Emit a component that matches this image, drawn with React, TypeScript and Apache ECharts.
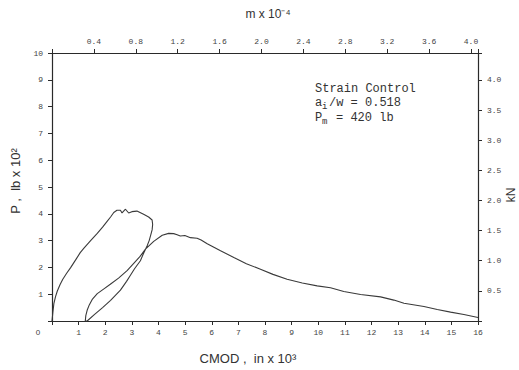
import React, { useEffect, useRef } from "react";
import * as echarts from "echarts";

// CMOD (in x 10^-3) and P (lb x 10^2)
const loadingCmod = [0, 0.03, 0.07, 0.13, 0.2, 0.3, 0.4, 0.55, 0.7, 0.9, 1.06, 1.2, 1.45, 1.7, 1.9, 2.07, 2.2, 2.32, 2.44, 2.57, 2.63, 2.76, 2.88, 3.0, 3.19, 3.44, 3.63, 3.76];
const loadingP = [0, 0.3, 0.65, 0.9, 1.12, 1.35, 1.55, 1.78, 1.99, 2.3, 2.55, 2.72, 3.0, 3.27, 3.5, 3.72, 3.88, 4.05, 4.13, 4.13, 4.03, 4.17, 4.03, 4.08, 4.1, 3.98, 3.88, 3.77];
const unloadingCmod = [3.78, 3.76, 3.72, 3.65, 3.57, 3.45, 3.32, 3.1, 2.94, 2.8, 2.57, 2.2, 1.9, 1.6, 1.32];
const unloadingP = [3.6, 3.4, 3.25, 3.0, 2.8, 2.55, 2.25, 1.95, 1.7, 1.48, 1.15, 0.77, 0.5, 0.25, 0.0];
const reloadingCmod = [1.25, 1.27, 1.32, 1.4, 1.52, 1.7, 1.95, 2.19, 2.5, 2.82, 3.07, 3.3, 3.51, 3.82, 4.14, 4.38, 4.57, 4.7, 4.82, 4.99, 5.2, 5.45, 5.6, 5.83, 6.33, 6.83, 7.3, 7.83, 8.3, 8.83, 9.4, 9.96, 10.46, 10.96, 11.59, 12.34, 12.84, 13.22, 13.97, 14.47, 14.97, 15.47, 16.0];
const reloadingP = [0.0, 0.2, 0.4, 0.6, 0.82, 1.02, 1.2, 1.37, 1.6, 1.88, 2.15, 2.4, 2.68, 2.97, 3.2, 3.27, 3.26, 3.22, 3.17, 3.19, 3.11, 3.09, 3.02, 2.88, 2.62, 2.37, 2.14, 1.93, 1.74, 1.56, 1.42, 1.31, 1.24, 1.1, 0.99, 0.9, 0.78, 0.66, 0.54, 0.43, 0.33, 0.24, 0.13];

const bottomTicks = { min: 0, max: 16, interval: 1 };
const leftTicks = { min: 0, max: 10, interval: 1 };
const topTicks = { min: 0, max: 4.067, interval: 0.4 };
const rightTicks = { min: 0, max: 4.448, interval: 0.5 };

const noteLines = ["Strain Control", "= 0.518", "= 420 lb"];

const AXIS_COLOR = "#2a2a2a";
const LABEL_COLOR = "#444";
const MONO = "'Liberation Mono', 'DejaVu Sans Mono', monospace";
const SANS = "'Liberation Sans', Arial, sans-serif";

function pairs(xs: number[], ys: number[]) {
  return xs.map((x, i) => [x, ys[i]]);
}

function isMultiple(v: number, step: number) {
  const r = v / step;
  return Math.abs(r - Math.round(r)) < 1e-6;
}

export default function App() {
  const ref = useRef<HTMLDivElement>(null);
  useEffect(() => {
    if (!ref.current) return;
    const chart = echarts.init(ref.current, null, { renderer: "svg" });
    const axisCommon = {
      axisLine: { show: true, onZero: false, lineStyle: { color: AXIS_COLOR, width: 1.2 } },
      axisTick: { show: true, length: 4, lineStyle: { color: AXIS_COLOR, width: 1 } },
      splitLine: { show: false },
    };
    const labelCommon = { fontSize: 8, color: LABEL_COLOR, fontFamily: MONO };
    const data = [
      ...pairs(loadingCmod, loadingP),
      ...pairs(unloadingCmod, unloadingP),
      ...pairs(reloadingCmod, reloadingP),
    ];
    chart.setOption({
      animation: false,
      backgroundColor: "#ffffff",
      grid: { left: 52, right: 41, top: 53, bottom: 49 },
      xAxis: [
        {
          type: "value",
          position: "bottom",
          ...bottomTicks,
          ...axisCommon,
          axisLabel: {
            ...labelCommon,
            margin: 7,
            formatter: (v: number) => (v === 0 ? "" : String(v)),
          },
        },
        {
          type: "value",
          position: "top",
          ...topTicks,
          ...axisCommon,
          axisLabel: {
            ...labelCommon,
            margin: 8,
            formatter: (v: number) =>
              v === 0 || !isMultiple(v, 0.4) ? "" : v.toFixed(1),
          },
        },
      ],
      yAxis: [
        {
          type: "value",
          position: "left",
          ...leftTicks,
          ...axisCommon,
          axisLabel: {
            ...labelCommon,
            margin: 9,
            formatter: (v: number) => (v === 0 ? "" : String(v)),
          },
        },
        {
          type: "value",
          position: "right",
          ...rightTicks,
          ...axisCommon,
          axisLabel: {
            ...labelCommon,
            margin: 9,
            formatter: (v: number) =>
              v === 0 || !isMultiple(v, 0.5) ? "" : v.toFixed(1),
          },
        },
      ],
      series: [
        {
          type: "line",
          xAxisIndex: 0,
          yAxisIndex: 0,
          data,
          showSymbol: false,
          symbol: "none",
          lineStyle: { color: "#3a3a3a", width: 1.1 },
        },
      ],
      graphic: [
        { type: "text", x: 38, y: 332, style: { text: "0", fontSize: 8, fill: LABEL_COLOR, font: `8px ${MONO}`, align: "center", verticalAlign: "middle" } },
        { type: "text", x: 248, y: 358, style: { text: "CMOD ,  in x 10³", font: `13px ${SANS}`, fill: "#333", align: "center", verticalAlign: "middle" } },
        { type: "text", x: 268, y: 14, style: { text: "m x 10⁻⁴", font: `12px ${SANS}`, fill: "#333", align: "center", verticalAlign: "middle" } },
        { type: "text", x: 15, y: 181, rotation: Math.PI / 2, style: { text: "P ,  lb x 10²", font: `13px ${SANS}`, fill: "#333", align: "center", verticalAlign: "middle" } },
        { type: "text", x: 511, y: 195, rotation: Math.PI / 2, style: { text: "kN", font: `12px ${SANS}`, fill: "#333", align: "center", verticalAlign: "middle" } },
        { type: "text", x: 315, y: 89, style: { text: noteLines[0], font: `12px ${MONO}`, fill: "#333", verticalAlign: "middle" } },
        { type: "text", x: 315, y: 103, style: { text: "a", font: `12px ${MONO}`, fill: "#333", verticalAlign: "middle" } },
        { type: "text", x: 322, y: 107, style: { text: "i", font: `9px ${MONO}`, fill: "#333", verticalAlign: "middle" } },
        { type: "text", x: 329, y: 103, style: { text: "/w " + noteLines[1], font: `12px ${MONO}`, fill: "#333", verticalAlign: "middle" } },
        { type: "text", x: 315, y: 118, style: { text: "P", font: `12px ${MONO}`, fill: "#333", verticalAlign: "middle" } },
        { type: "text", x: 322, y: 122, style: { text: "m", font: `9px ${MONO}`, fill: "#333", verticalAlign: "middle" } },
        { type: "text", x: 336, y: 118, style: { text: noteLines[2], font: `12px ${MONO}`, fill: "#333", verticalAlign: "middle" } },
      ],
    });
    return () => chart.dispose();
  }, []);
  return <div ref={ref} style={{ width: 519, height: 370, position: "absolute", left: 0, top: 0 }} />;
}
